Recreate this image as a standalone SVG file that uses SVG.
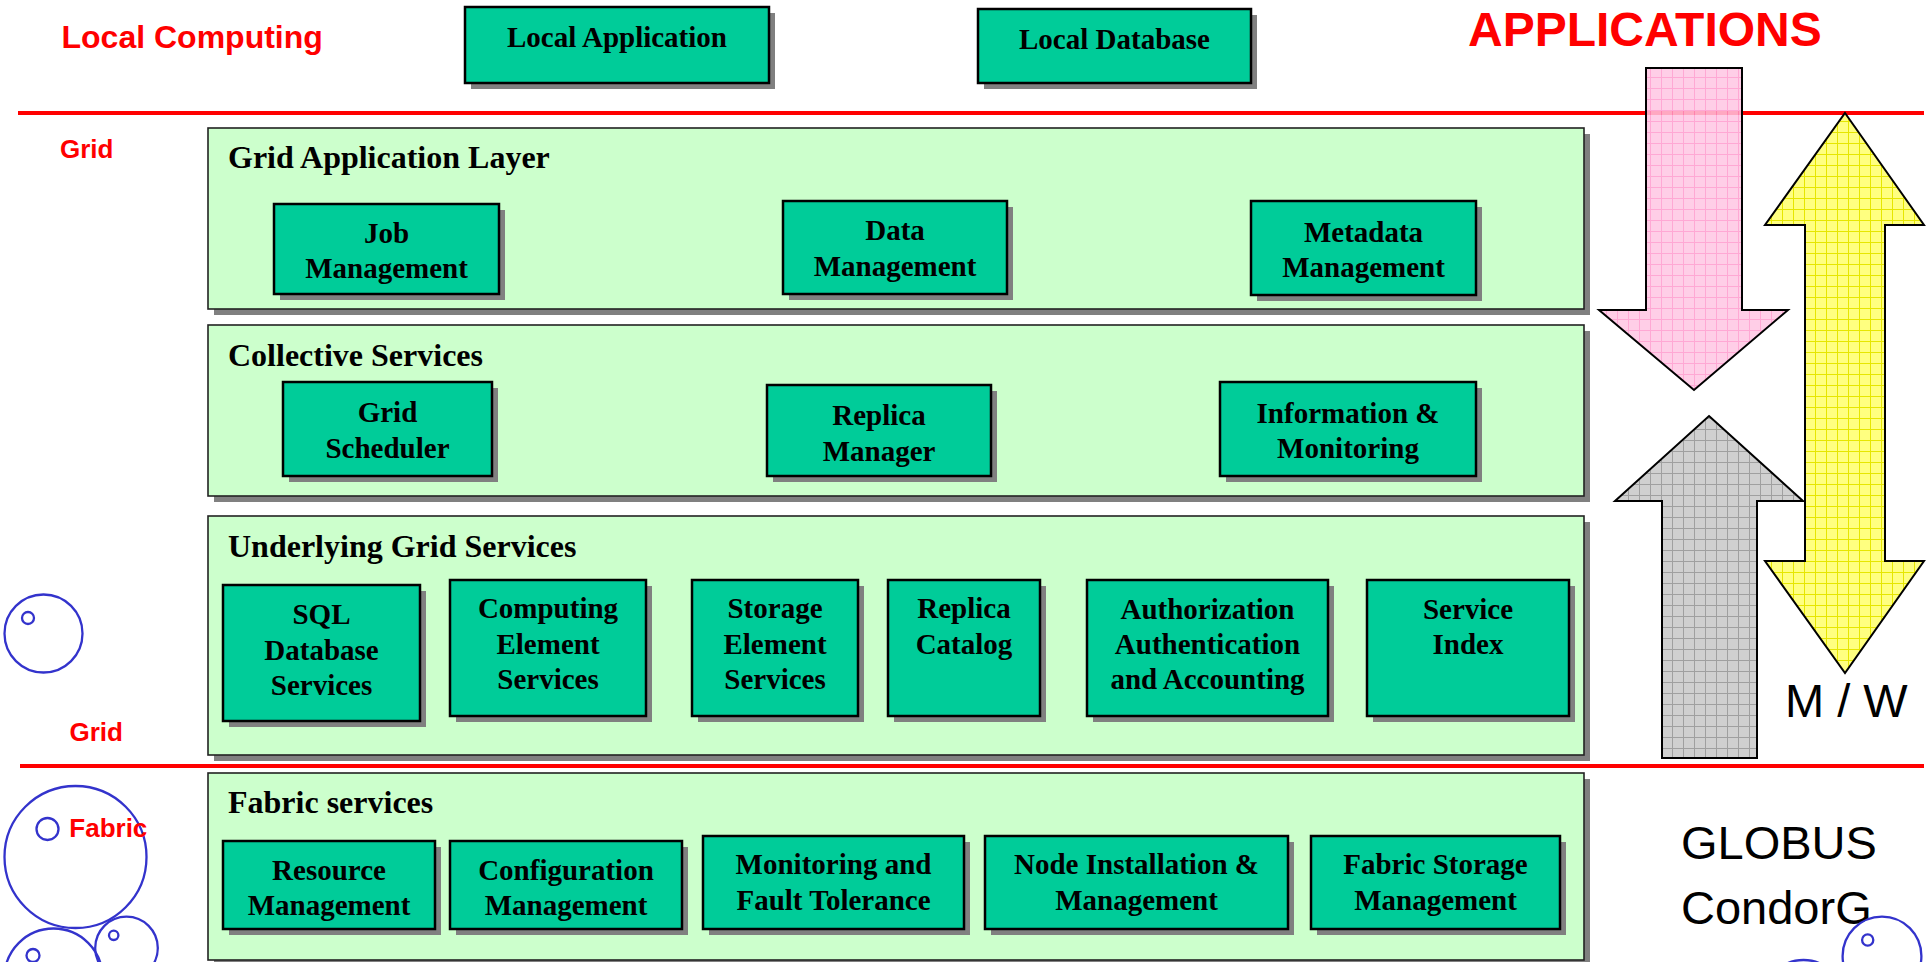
<svg xmlns="http://www.w3.org/2000/svg" width="1930" height="962" viewBox="0 0 1930 962">
<style>
.shadow{fill:#808080}
.box{fill:#00CC99;stroke:#000;stroke-width:2.5}
.panel{fill:#CCFFCC;stroke:#222;stroke-width:1.6}
.bt{font-family:"Liberation Serif","Times New Roman",serif;font-weight:bold;font-size:29px;text-anchor:middle;fill:#000}
.pt{font-family:"Liberation Serif","Times New Roman",serif;font-weight:bold;font-size:32px;fill:#000}
.red{font-family:"Liberation Sans",Arial,sans-serif;font-weight:bold;fill:#FF0000}
.blk{font-family:"Liberation Sans",Arial,sans-serif;font-size:47px;fill:#000}
.circ{fill:none;stroke:#3333CC;stroke-width:2.3}
.rline{stroke:#FF0000;stroke-width:4}
.arrow{stroke:#000;stroke-width:2;stroke-linejoin:miter}
</style>
<defs>
<pattern id="pinkGrid" width="11" height="11" patternUnits="userSpaceOnUse"><rect width="11" height="11" fill="#FFC6E3"/><path d="M0 0.5H11M0.5 0V11" stroke="#FF99CC" stroke-width="1"/></pattern>
<pattern id="yelGrid" width="11" height="11" patternUnits="userSpaceOnUse"><rect width="11" height="11" fill="#FFFF80"/><path d="M0 0.5H11M0.5 0V11" stroke="#E6E600" stroke-width="1"/></pattern>
<pattern id="grayGrid" width="11" height="11" patternUnits="userSpaceOnUse"><rect width="11" height="11" fill="#D0D0D0"/><path d="M0 0.5H11M0.5 0V11" stroke="#A0A0A0" stroke-width="1"/></pattern>
</defs>
<rect width="1930" height="962" fill="#FFFFFF"/>

<g id="labels">
<text class="red" x="61.5" y="48" font-size="32">Local Computing</text>
<text class="red" x="60" y="158" font-size="26">Grid</text>
<text class="red" x="69.5" y="741" font-size="26">Grid</text>
<text class="red" x="1468" y="46" font-size="48">APPLICATIONS</text>
<text class="blk" x="1785" y="717">M / W</text>
<text class="blk" x="1681" y="859">GLOBUS</text>
<text class="blk" x="1681" y="924">CondorG</text>
</g>

<g id="circles">
<circle class="circ" cx="43.5" cy="633.5" r="39"/>
<circle class="circ" cx="28" cy="618" r="6"/>
<circle class="circ" cx="75.5" cy="857" r="71"/>
<circle class="circ" cx="47.5" cy="829" r="11"/>
<circle class="circ" cx="53.5" cy="977.5" r="49"/>
<circle class="circ" cx="33" cy="955.5" r="6.5"/>
<circle class="circ" cx="126.5" cy="948" r="31.3"/>
<circle class="circ" cx="113.7" cy="935.3" r="4.7"/>
<circle class="circ" cx="1882" cy="956" r="39.4"/>
<circle class="circ" cx="1867.7" cy="940" r="5.6"/>
<circle class="circ" cx="1803.5" cy="1000" r="40"/>
</g>
<text class="red" x="69.3" y="836.7" font-size="26">Fabric</text>

<g id="panel-grid-application-layer">
<rect class="shadow" x="214" y="134" width="1376" height="181"/>
<rect class="panel" x="208" y="128" width="1376" height="181"/>
<text class="pt" x="228" y="168">Grid Application Layer</text>
</g>
<g id="panel-collective-services">
<rect class="shadow" x="214" y="331" width="1376" height="171"/>
<rect class="panel" x="208" y="325" width="1376" height="171"/>
<text class="pt" x="228" y="366">Collective Services</text>
</g>
<g id="panel-underlying-grid-services">
<rect class="shadow" x="214" y="522" width="1376" height="239"/>
<rect class="panel" x="208" y="516" width="1376" height="239"/>
<text class="pt" x="228" y="557">Underlying Grid Services</text>
</g>
<g id="panel-fabric-services">
<rect class="shadow" x="214" y="779" width="1376" height="187"/>
<rect class="panel" x="208" y="773" width="1376" height="187"/>
<text class="pt" x="228" y="813">Fabric services</text>
</g>

<g id="local-application">
<rect class="shadow" x="471" y="13" width="304" height="76"/>
<rect class="box" x="465" y="7" width="304" height="76"/>
<text class="bt" x="617" y="47">Local Application</text>
</g>
<g id="local-database">
<rect class="shadow" x="984" y="15" width="273" height="74"/>
<rect class="box" x="978" y="9" width="273" height="74"/>
<text class="bt" x="1114.5" y="48.5">Local Database</text>
</g>

<g id="job-management">
<rect class="shadow" x="280" y="210" width="225" height="90"/>
<rect class="box" x="274" y="204" width="225" height="90"/>
<text class="bt" x="386.5" y="243">Job</text>
<text class="bt" x="386.5" y="278">Management</text>
</g>
<g id="data-management">
<rect class="shadow" x="789" y="207" width="224" height="93"/>
<rect class="box" x="783" y="201" width="224" height="93"/>
<text class="bt" x="895" y="240">Data</text>
<text class="bt" x="895" y="276">Management</text>
</g>
<g id="metadata-management">
<rect class="shadow" x="1257" y="207" width="225" height="94"/>
<rect class="box" x="1251" y="201" width="225" height="94"/>
<text class="bt" x="1363.5" y="241.5">Metadata</text>
<text class="bt" x="1363.5" y="277">Management</text>
</g>

<g id="grid-scheduler">
<rect class="shadow" x="289" y="388" width="209" height="94"/>
<rect class="box" x="283" y="382" width="209" height="94"/>
<text class="bt" x="387.5" y="422">Grid</text>
<text class="bt" x="387.5" y="458">Scheduler</text>
</g>
<g id="replica-manager">
<rect class="shadow" x="773" y="391" width="224" height="91"/>
<rect class="box" x="767" y="385" width="224" height="91"/>
<text class="bt" x="879" y="425">Replica</text>
<text class="bt" x="879" y="461">Manager</text>
</g>
<g id="information-monitoring">
<rect class="shadow" x="1226" y="388" width="256" height="94"/>
<rect class="box" x="1220" y="382" width="256" height="94"/>
<text class="bt" x="1348" y="423">Information &amp;</text>
<text class="bt" x="1348" y="458">Monitoring</text>
</g>

<g id="sql-database-services">
<rect class="shadow" x="229" y="591" width="197" height="136"/>
<rect class="box" x="223" y="585" width="197" height="136"/>
<text class="bt" x="321.5" y="624">SQL</text>
<text class="bt" x="321.5" y="660">Database</text>
<text class="bt" x="321.5" y="695">Services</text>
</g>
<g id="computing-element-services">
<rect class="shadow" x="456" y="586" width="196" height="136"/>
<rect class="box" x="450" y="580" width="196" height="136"/>
<text class="bt" x="548" y="618">Computing</text>
<text class="bt" x="548" y="654">Element</text>
<text class="bt" x="548" y="689">Services</text>
</g>
<g id="storage-element-services">
<rect class="shadow" x="698" y="586" width="166" height="136"/>
<rect class="box" x="692" y="580" width="166" height="136"/>
<text class="bt" x="775" y="618">Storage</text>
<text class="bt" x="775" y="654">Element</text>
<text class="bt" x="775" y="689">Services</text>
</g>
<g id="replica-catalog">
<rect class="shadow" x="894" y="586" width="152" height="136"/>
<rect class="box" x="888" y="580" width="152" height="136"/>
<text class="bt" x="964" y="618">Replica</text>
<text class="bt" x="964" y="654">Catalog</text>
</g>
<g id="authorization">
<rect class="shadow" x="1093" y="586" width="241" height="136"/>
<rect class="box" x="1087" y="580" width="241" height="136"/>
<text class="bt" x="1207.5" y="618.5">Authorization</text>
<text class="bt" x="1207.5" y="654">Authentication</text>
<text class="bt" x="1207.5" y="689">and Accounting</text>
</g>
<g id="service-index">
<rect class="shadow" x="1373" y="586" width="202" height="136"/>
<rect class="box" x="1367" y="580" width="202" height="136"/>
<text class="bt" x="1468" y="618.5">Service</text>
<text class="bt" x="1468" y="654">Index</text>
</g>

<g id="resource-management">
<rect class="shadow" x="229" y="847" width="212" height="88"/>
<rect class="box" x="223" y="841" width="212" height="88"/>
<text class="bt" x="329" y="880">Resource</text>
<text class="bt" x="329" y="915">Management</text>
</g>
<g id="configuration-management">
<rect class="shadow" x="456" y="847" width="232" height="88"/>
<rect class="box" x="450" y="841" width="232" height="88"/>
<text class="bt" x="566" y="880">Configuration</text>
<text class="bt" x="566" y="915">Management</text>
</g>
<g id="monitoring-fault-tolerance">
<rect class="shadow" x="709" y="842" width="261" height="93"/>
<rect class="box" x="703" y="836" width="261" height="93"/>
<text class="bt" x="833.5" y="874">Monitoring and</text>
<text class="bt" x="833.5" y="910">Fault Tolerance</text>
</g>
<g id="node-installation">
<rect class="shadow" x="991" y="842" width="303" height="93"/>
<rect class="box" x="985" y="836" width="303" height="93"/>
<text class="bt" x="1136.5" y="874">Node Installation &amp;</text>
<text class="bt" x="1136.5" y="910">Management</text>
</g>
<g id="fabric-storage-management">
<rect class="shadow" x="1317" y="842" width="249" height="93"/>
<rect class="box" x="1311" y="836" width="249" height="93"/>
<text class="bt" x="1435.5" y="874">Fabric Storage</text>
<text class="bt" x="1435.5" y="910">Management</text>
</g>

<g id="connectors">
<line class="rline" x1="18" y1="113" x2="1924" y2="113"/>
<line class="rline" x1="20" y1="766" x2="1924" y2="766"/>
<path class="arrow" fill="url(#grayGrid)" d="M1709 416 L1803 501 L1757 501 L1757 758 L1662 758 L1662 501 L1615 501 Z"/>
<path class="arrow" fill="url(#yelGrid)" d="M1845 113 L1924 225 L1885 225 L1885 561 L1924 561 L1845 673 L1765 561 L1805 561 L1805 225 L1765 225 Z"/>
<path class="arrow" fill="url(#pinkGrid)" fill-opacity="0.85" d="M1646 68 L1742 68 L1742 310 L1788 310 L1694 390 L1599 310 L1646 310 Z"/>
</g>
</svg>
